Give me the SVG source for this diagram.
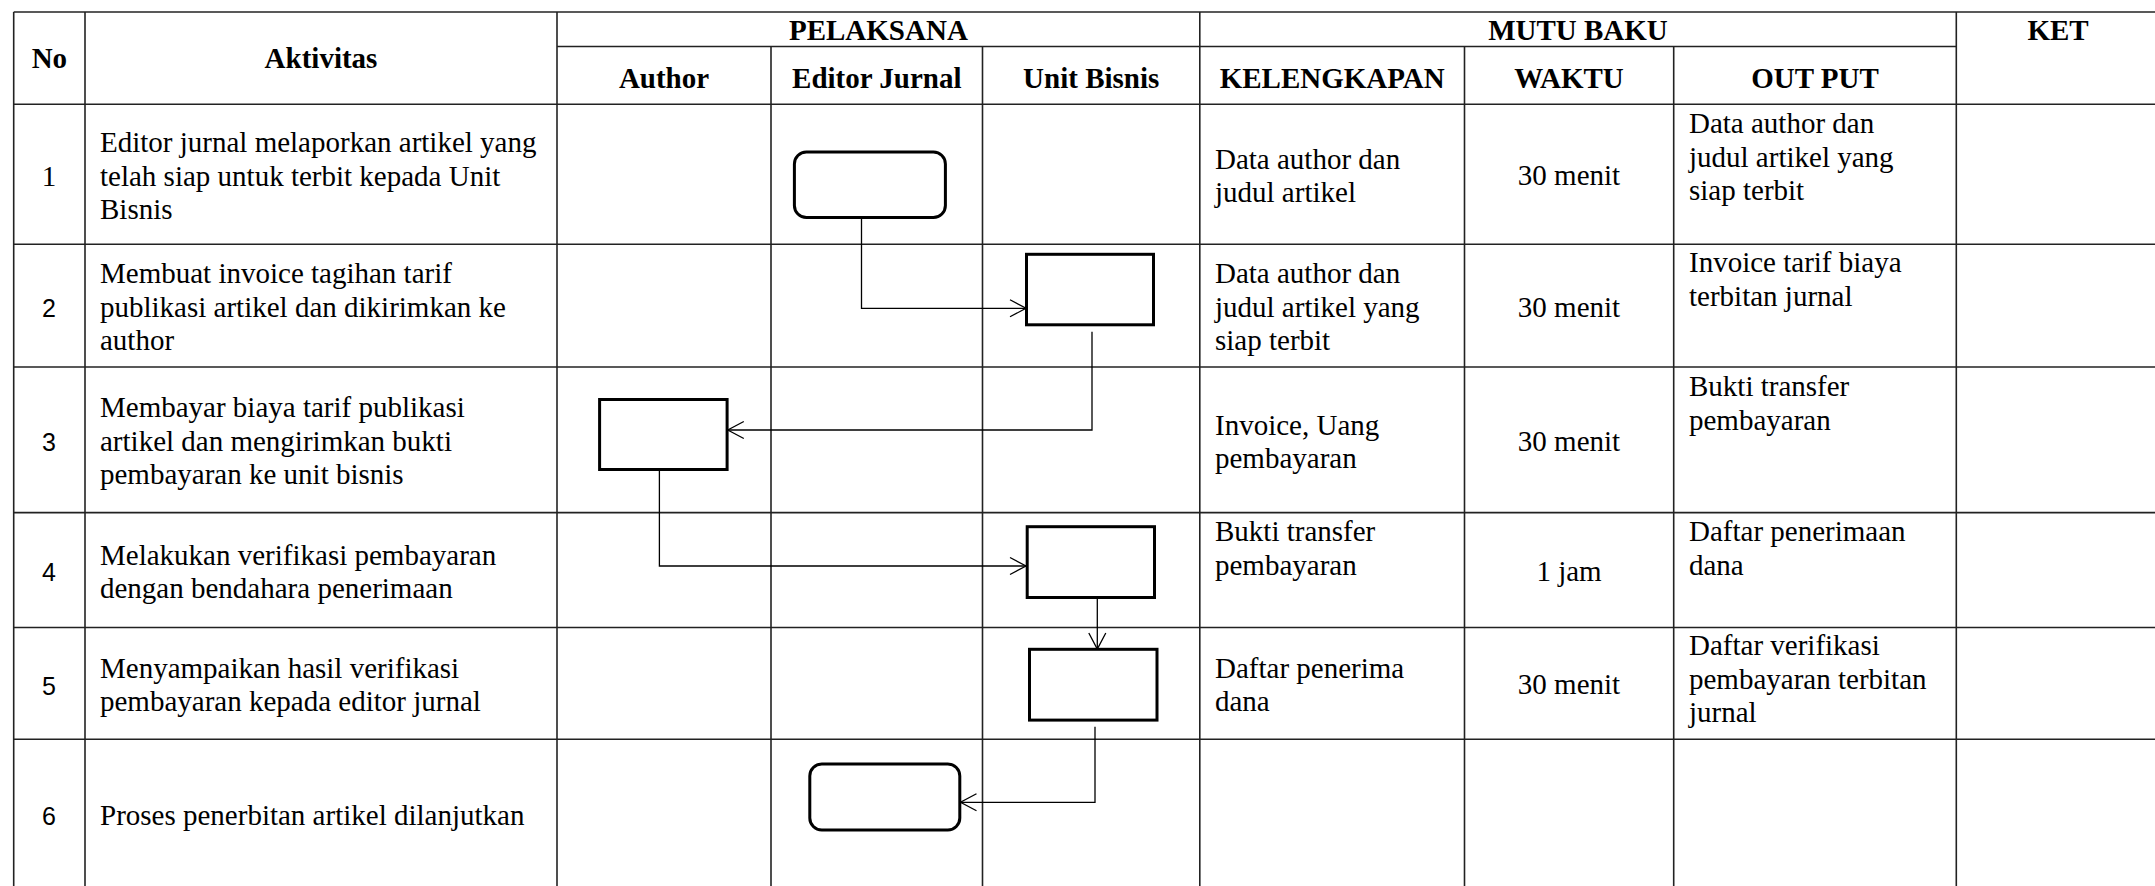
<svg xmlns="http://www.w3.org/2000/svg" width="2155" height="886" viewBox="0 0 2155 886">
<style>
.t{font-family:"Liberation Serif","Times New Roman",serif;font-size:29px;fill:#000}
.h{font-family:"Liberation Serif","Times New Roman",serif;font-size:29px;font-weight:bold;fill:#000;text-anchor:middle}
.n{font-family:"Liberation Sans",Arial,sans-serif;font-size:25px;fill:#000;text-anchor:middle}
.c{text-anchor:middle}
.grid line{stroke:#222;stroke-width:1.6}
.box{fill:#fff;stroke:#000;stroke-width:3}
.conn{fill:none;stroke:#000;stroke-width:1.3}
</style>
<defs>
<marker id="arr" markerUnits="userSpaceOnUse" viewBox="-18 -10 20 20" markerWidth="20" markerHeight="20" refX="0" refY="0" orient="auto">
<path d="M-16,-8.5 L0,0 L-16,8.5" fill="none" stroke="#000" stroke-width="1.3"/>
</marker>
</defs>
<rect width="2155" height="886" fill="#fff"/>
<g id="grid" class="grid">
<line x1="13.7" y1="12" x2="2160" y2="12"/>
<line x1="557" y1="46.5" x2="1956.3" y2="46.5"/>
<line x1="13.7" y1="104.3" x2="2160" y2="104.3"/>
<line x1="13.7" y1="244.3" x2="2160" y2="244.3"/>
<line x1="13.7" y1="367" x2="2160" y2="367"/>
<line x1="13.7" y1="512.6" x2="2160" y2="512.6"/>
<line x1="13.7" y1="627.5" x2="2160" y2="627.5"/>
<line x1="13.7" y1="739.2" x2="2160" y2="739.2"/>
<line x1="13.7" y1="12" x2="13.7" y2="890"/>
<line x1="85" y1="12" x2="85" y2="890"/>
<line x1="557" y1="12" x2="557" y2="890"/>
<line x1="771" y1="46.5" x2="771" y2="890"/>
<line x1="982.5" y1="46.5" x2="982.5" y2="890"/>
<line x1="1199.8" y1="12" x2="1199.8" y2="890"/>
<line x1="1464.5" y1="46.5" x2="1464.5" y2="890"/>
<line x1="1673.7" y1="46.5" x2="1673.7" y2="890"/>
<line x1="1956.3" y1="12" x2="1956.3" y2="890"/>
</g>
<g id="headers">
<text class="h" x="49.4" y="68">No</text>
<text class="h" x="321" y="68">Aktivitas</text>
<text class="h" x="878.4" y="40">PELAKSANA</text>
<text class="h" x="1578" y="40">MUTU BAKU</text>
<text class="h" x="2058" y="40">KET</text>
<text class="h" x="664" y="88">Author</text>
<text class="h" x="876.8" y="88">Editor Jurnal</text>
<text class="h" x="1091.2" y="88">Unit Bisnis</text>
<text class="h" x="1332.2" y="88">KELENGKAPAN</text>
<text class="h" x="1569" y="88">WAKTU</text>
<text class="h" x="1815" y="88">OUT PUT</text>
</g>
<g id="row1">
<text class="t c" x="49" y="186">1</text>
<text class="t" x="100"><tspan x="100" y="152">Editor jurnal melaporkan artikel yang</tspan><tspan x="100" y="185.5">telah siap untuk terbit kepada Unit</tspan><tspan x="100" y="219">Bisnis</tspan></text>
<text class="t" x="1215"><tspan x="1215" y="168.5">Data author dan</tspan><tspan x="1215" y="202">judul artikel</tspan></text>
<text class="t c" x="1569" y="185.3">30 menit</text>
<text class="t" x="1689"><tspan x="1689" y="133">Data author dan</tspan><tspan x="1689" y="166.5">judul artikel yang</tspan><tspan x="1689" y="200">siap terbit</tspan></text>
</g>
<g id="row2">
<text class="n" x="49" y="316.7">2</text>
<text class="t" x="100"><tspan x="100" y="283.2">Membuat invoice tagihan tarif</tspan><tspan x="100" y="316.7">publikasi artikel dan dikirimkan ke</tspan><tspan x="100" y="350.2">author</tspan></text>
<text class="t" x="1215"><tspan x="1215" y="283.2">Data author dan</tspan><tspan x="1215" y="316.7">judul artikel yang</tspan><tspan x="1215" y="350.2">siap terbit</tspan></text>
<text class="t c" x="1569" y="316.7">30 menit</text>
<text class="t" x="1689"><tspan x="1689" y="272">Invoice tarif biaya</tspan><tspan x="1689" y="305.5">terbitan jurnal</tspan></text>
</g>
<g id="row3">
<text class="n" x="49" y="451">3</text>
<text class="t" x="100"><tspan x="100" y="417.3">Membayar biaya tarif publikasi</tspan><tspan x="100" y="450.8">artikel dan mengirimkan bukti</tspan><tspan x="100" y="484.3">pembayaran ke unit bisnis</tspan></text>
<text class="t" x="1215"><tspan x="1215" y="434.5">Invoice, Uang</tspan><tspan x="1215" y="468">pembayaran</tspan></text>
<text class="t c" x="1569" y="451">30 menit</text>
<text class="t" x="1689"><tspan x="1689" y="396">Bukti transfer</tspan><tspan x="1689" y="429.5">pembayaran</tspan></text>
</g>
<g id="row4">
<text class="n" x="49" y="581">4</text>
<text class="t" x="100"><tspan x="100" y="564.5">Melakukan verifikasi pembayaran</tspan><tspan x="100" y="598">dengan bendahara penerimaan</tspan></text>
<text class="t" x="1215"><tspan x="1215" y="541.3">Bukti transfer</tspan><tspan x="1215" y="574.8">pembayaran</tspan></text>
<text class="t c" x="1569" y="581.3">1 jam</text>
<text class="t" x="1689"><tspan x="1689" y="541.3">Daftar penerimaan</tspan><tspan x="1689" y="574.8">dana</tspan></text>
</g>
<g id="row5">
<text class="n" x="49" y="694.5">5</text>
<text class="t" x="100"><tspan x="100" y="677.6">Menyampaikan hasil verifikasi</tspan><tspan x="100" y="711.1">pembayaran kepada editor jurnal</tspan></text>
<text class="t" x="1215"><tspan x="1215" y="677.6">Daftar penerima</tspan><tspan x="1215" y="711.1">dana</tspan></text>
<text class="t c" x="1569" y="694.3">30 menit</text>
<text class="t" x="1689"><tspan x="1689" y="655">Daftar verifikasi</tspan><tspan x="1689" y="688.5">pembayaran terbitan</tspan><tspan x="1689" y="722">jurnal</tspan></text>
</g>
<g id="row6">
<text class="n" x="49" y="825">6</text>
<text class="t" x="100" y="825">Proses penerbitan artikel dilanjutkan</text>
</g>
<g id="connectors" class="conn">
<polyline points="861.5,218 861.5,308.3 1026,308.3" marker-end="url(#arr)"/>
<polyline points="1092,331.7 1092,430 727.8,430" marker-end="url(#arr)"/>
<polyline points="659.4,469.5 659.4,566 1026,566" marker-end="url(#arr)"/>
<polyline points="1097.3,597.5 1097.3,649" marker-end="url(#arr)"/>
<polyline points="1095,726.7 1095,802.3 960.5,802.3" marker-end="url(#arr)"/>
</g>
<g id="node1"><rect class="box" x="794.4" y="152" width="151" height="65.5" rx="12"/></g>
<g id="node2"><rect class="box" x="1026.5" y="254.3" width="127" height="70.5"/></g>
<g id="node3"><rect class="box" x="599.6" y="399.5" width="127.5" height="70"/></g>
<g id="node4"><rect class="box" x="1027.2" y="526.7" width="127.3" height="70.8"/></g>
<g id="node5"><rect class="box" x="1029.5" y="649.3" width="127.5" height="70.8"/></g>
<g id="node6"><rect class="box" x="809.8" y="764" width="150" height="66" rx="12"/></g>
</svg>
